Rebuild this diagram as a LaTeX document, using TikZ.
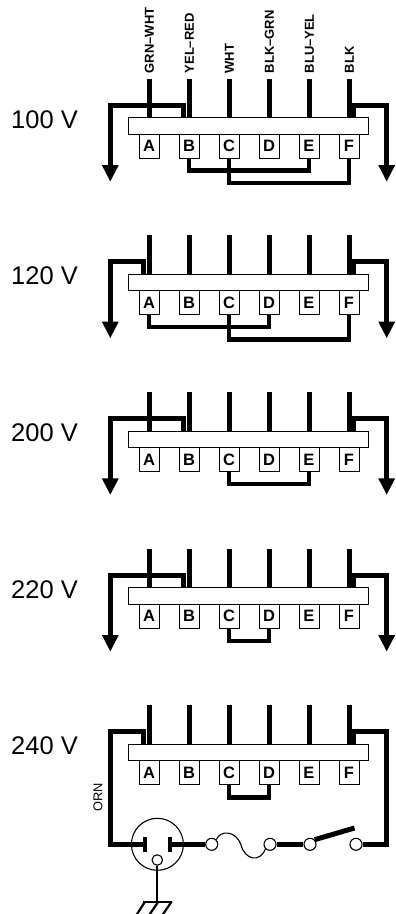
\documentclass[tikz,border=0pt]{standalone}
\usepackage{fontspec}
\setmainfont{Liberation Sans}
\usetikzlibrary{arrows.meta,calc}
\tikzset{
  x=1pt,y=-1pt,
  wire/.style={line width=5pt,line cap=butt,line join=miter},
  jumper/.style={line width=4.6pt,line cap=butt,line join=miter},
  thin wire/.style={line width=1.1pt},
  gnd wire/.style={line width=2.2pt},
  tee/.style={line width=3.2pt},
  bar/.style={draw,line width=1pt,fill=white,minimum width=240pt,minimum height=16.6pt,inner sep=0pt},
  term/.style={draw,line width=1pt,fill=white,minimum width=20pt,minimum height=24pt,inner sep=0pt,font=\bfseries\fontsize{16.5}{17}\selectfont},
  volt/.style={anchor=west,inner sep=0pt,font=\fontsize{25.5}{26}\selectfont},
  lead/.style={rotate=90,anchor=west,inner sep=0pt,font=\bfseries\fontsize{13}{13}\selectfont},
  tap/.style={wire,-{Triangle[length=16.7pt,width=15.7pt]}},
  pin/.style={circle,draw,line width=1.1pt,fill=white,minimum size=12pt,inner sep=0pt},
}
% #1 name, #2 vertical offset, #3 voltage, #4 left tap x
\newcommand{\wireblock}[4]{%
  \begin{scope}[shift={(0,#2)}]
    \foreach \n/\xx in {A/149,B/189,C/229,D/269,E/309,F/349}{
      \coordinate (#1w\n) at (\xx,78.5);
      \coordinate (#1t\n) at (\xx,118);
      \draw[wire] (#1w\n) -- (#1t\n);
    }
    \coordinate (#1ls) at (#4,118);
    \coordinate (#1rs) at (353.5,118);
    \coordinate (#1lc) at (110.3,105);
    \coordinate (#1rc) at (386.7,105);
    \coordinate (#1la) at (110.3,181.7);
    \coordinate (#1ra) at (386.7,181.7);
    \node[volt] (#1v) at (11,119.5) {#3};
    \node[term] (#1A) at (149,146.3) {A};
    \node[term] (#1B) at (189,146.3) {B};
    \node[term] (#1C) at (229,146.3) {C};
    \node[term] (#1D) at (269,146.3) {D};
    \node[term] (#1E) at (309,146.3) {E};
    \node[term] (#1F) at (349,146.3) {F};
  \end{scope}%
}
\newcommand{\barnode}[2]{\node[bar] (#1bar) at (248.5,#2+126) {};}
\newcommand{\jump}[3]{\draw[jumper] (#1.south) -- ($(#1.south)+(0,#3)$) -| (#2.south);}
\begin{document}
\begin{tikzpicture}
\useasboundingbox (0,0) rectangle (396,914);
% ---- block 1
\wireblock{a}{0}{100 V}{183.3}
\draw[tap] (als) |- (alc) -- (ala);
\draw[tap] (ars) |- (arc) -- (ara);
\barnode{a}{0}
\jump{aB}{aE}{11.7}
\jump{aC}{aF}{24}
\node[lead] (l1) at (149.5,73.5) {GRN–WHT};
\node[lead] (l2) at (189.5,73.5) {YEL–RED};
\node[lead] (l3) at (229.5,73.5) {WHT};
\node[lead] (l4) at (269.5,73.5) {BLK–GRN};
\node[lead] (l5) at (309.5,73.5) {BLU–YEL};
\node[lead] (l6) at (349.5,73.5) {BLK};
% ---- block 2
\wireblock{b}{156.6}{120 V}{143.5}
\draw[tap] (bls) |- (blc) -- (bla);
\draw[tap] (brs) |- (brc) -- (bra);
\barnode{b}{156.6}
\jump{bA}{bD}{11.7}
\jump{bC}{bF}{24}
% ---- block 3
\wireblock{c}{313.3}{200 V}{183.3}
\draw[tap] (cls) |- (clc) -- (cla);
\draw[tap] (crs) |- (crc) -- (cra);
\barnode{c}{313.3}
\jump{cC}{cE}{12}
% ---- block 4
\wireblock{d}{470}{220 V}{183.3}
\draw[tap] (dls) |- (dlc) -- (dla);
\draw[tap] (drs) |- (drc) -- (dra);
\barnode{d}{470}
\jump{dC}{dD}{12}
% ---- block 5
\wireblock{e}{626.6}{240 V}{143.5}
\barnode{e}{626.6}
\jump{eC}{eD}{12}
\node[pin] (fa) at (211.7,844.3) {};
\node[pin] (fb) at (270,844.3) {};
\node[pin] (sa) at (310,844.3) {};
\node[pin] (sb) at (356,844.3) {};
\coordinate (plugl) at (145,844.3);
\coordinate (plugr) at (170,844.3);
\draw[wire] (els) |- (elc) |- (plugl);
\draw[wire] (ers) |- (erc) |- (sb.east);
\draw[wire] (plugr) -- (fa.west);
\draw[wire] (fb.east) -- (sa.west);
\draw[tee] ($(plugl)+(0,-7.5)$) -- ($(plugl)+(0,7.5)$);
\draw[tee] ($(plugr)+(0,-7.5)$) -- ($(plugr)+(0,7.5)$);
\coordinate (blade) at (354.5,828);
\draw[wire] (sa.north east) -- (blade);
\node[circle,draw,line width=1.1pt,minimum size=52pt,inner sep=0pt] (plug) at (157.4,844.3) {};
\node[pin,minimum size=10.5pt] (gp) at (157.3,860) {};
\coordinate (gnd) at (157.3,901.7);
\draw[gnd wire] (gp.south) -- (gnd);
\draw[gnd wire] (143.3,901.7) -- (172.3,901.7);
\draw[gnd wire] (145,901.7) -- (136.8,914.5);
\draw[gnd wire] (158.3,901.7) -- (149.6,914.5);
\draw[gnd wire] (171.5,901.7) -- (162.8,914.5);
\draw[thin wire] (fa.north east) .. controls (220,830) and (236,830) .. (241,845)
  .. controls (245,860) and (260,863) .. (fb.south west);
\node[rotate=90,inner sep=0pt,font=\fontsize{12.8}{13}\selectfont] (orn) at (98,797) {ORN};
\end{tikzpicture}
\end{document}
